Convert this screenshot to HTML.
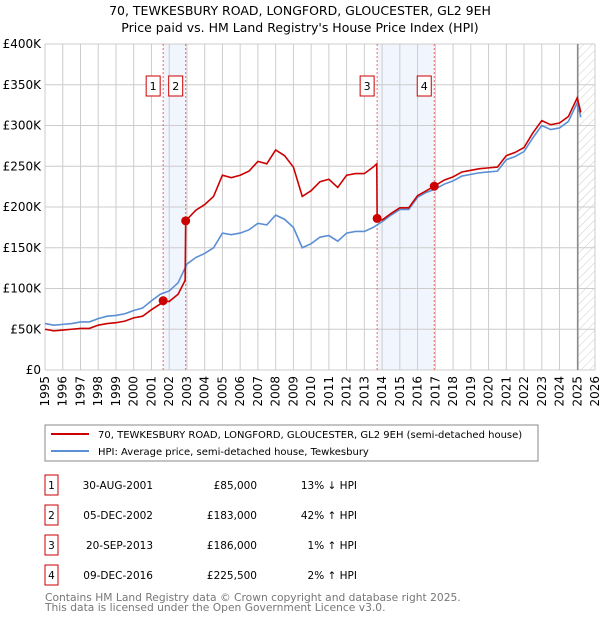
<!DOCTYPE html>
<html><head><meta charset="utf-8"><style>
body{margin:0;background:#fff;width:600px;height:620px;overflow:hidden;font-family:"DejaVu Sans","Liberation Sans",sans-serif;}
</style></head><body>
<svg id="chart" width="600" height="620" xmlns="http://www.w3.org/2000/svg" font-family="DejaVu Sans, Liberation Sans, sans-serif">
<defs><pattern id="hatch" patternUnits="userSpaceOnUse" width="6" height="6" patternTransform="rotate(45)"><line x1="0" y1="0" x2="0" y2="6" stroke="#ccc" stroke-width="1"/></pattern></defs>
<text x="300" y="15" font-size="12.5" text-anchor="middle">70, TEWKESBURY ROAD, LONGFORD, GLOUCESTER, GL2 9EH</text>
<text x="300" y="32" font-size="12.5" text-anchor="middle">Price paid vs. HM Land Registry's House Price Index (HPI)</text>
<g id="plot"></g>
<g>
<rect x="45" y="425" width="493" height="36" fill="#fff" stroke="#888"/>
<line x1="51" y1="434" x2="89" y2="434" stroke="#cc0000" stroke-width="2"/>
<text x="98" y="438" font-size="10">70, TEWKESBURY ROAD, LONGFORD, GLOUCESTER, GL2 9EH (semi-detached house)</text>
<line x1="51" y1="451" x2="89" y2="451" stroke="#5b8fd4" stroke-width="2"/>
<text x="98" y="455" font-size="10">HPI: Average price, semi-detached house, Tewkesbury</text>
</g>
<g id="table" font-size="10.5"></g>
<text x="45" y="601" font-size="10.7" fill="#777">Contains HM Land Registry data © Crown copyright and database right 2025.</text>
<text x="45" y="611" font-size="10.7" fill="#777">This data is licensed under the Open Government Licence v3.0.</text>
</svg>
<script>
const yearTicks=[1995,1996,1997,1998,1999,2000,2001,2002,2003,2004,2005,2006,2007,2008,2009,2010,2011,2012,2013,2014,2015,2016,2017,2018,2019,2020,2021,2022,2023,2024,2025,2026];
const valueTicks=[0,50000,100000,150000,200000,250000,300000,350000,400000];
const valueTickLabels=["£0","£50K","£100K","£150K","£200K","£250K","£300K","£350K","£400K"];
const hpiYears=[1995,1995.5,1996,1996.5,1997,1997.5,1998,1998.5,1999,1999.5,2000,2000.5,2001,2001.5,2002,2002.5,2003,2003.5,2004,2004.5,2005,2005.5,2006,2006.5,2007,2007.5,2008,2008.5,2009,2009.5,2010,2010.5,2011,2011.5,2012,2012.5,2013,2013.5,2014,2014.5,2015,2015.5,2016,2016.5,2017,2017.5,2018,2018.5,2019,2019.5,2020,2020.5,2021,2021.5,2022,2022.5,2023,2023.5,2024,2024.5,2025,2025.2];
const hpiValues=[57,55,56,57,59,59,63,66,67,69,73,76,85,93,97,107,130,138,143,150,168,166,168,172,180,178,190,185,175,150,155,163,165,158,168,170,170,175,182,190,197,197,212,218,222,228,232,238,240,242,243,244,258,262,268,285,300,295,297,305,328,310];
const priceYears=[1995,1995.5,1996,1996.5,1997,1997.5,1998,1998.5,1999,1999.5,2000,2000.5,2001,2001.5,2001.66,2002,2002.5,2002.9,2002.93,2003.5,2004,2004.5,2005,2005.5,2006,2006.5,2007,2007.5,2008,2008.5,2009,2009.5,2010,2010.5,2011,2011.5,2012,2012.5,2013,2013.5,2013.7,2013.72,2014,2014.5,2015,2015.5,2016,2016.5,2016.94,2017.5,2018,2018.5,2019,2019.5,2020,2020.5,2021,2021.5,2022,2022.5,2023,2023.5,2024,2024.5,2025,2025.2];
const priceValues=[50,48,49,50,51,51,55,57,58,60,64,66,74,81,85,84,93,110,183,196,203,213,239,236,239,244,256,253,270,263,249,213,220,231,234,224,239,241,241,249,253,186,184,192,199,199,214,220,225.5,233,237,243,245,247,248,249,263,267,273,291,306,301,303,311,334,316];
const saleLabels=["1","2","3","4"];
const saleYears=[2001.66,2002.93,2013.72,2016.94];
const saleValues=[85000,183000,186000,225500];
const saleDates=["30-AUG-2001","05-DEC-2002","20-SEP-2013","09-DEC-2016"];
const salePrices=["£85,000","£183,000","£186,000","£225,500"];
const saleHpi=["13% ↓ HPI","42% ↑ HPI","1% ↑ HPI","2% ↑ HPI"];

const X0=45,X1=595,Y0=370,Y1=44;
const sx=y=>X0+(y-1995)/(2026-1995)*(X1-X0);
const sy=v=>Y0-v/400000*(Y0-Y1);
const NS="http://www.w3.org/2000/svg";
const plot=document.getElementById('plot');
function mk(tag,attrs,parent){const e=document.createElementNS(NS,tag);for(const k in attrs)e.setAttribute(k,attrs[k]);(parent||plot).appendChild(e);return e;}
for(const [a,b] of [[0,1],[2,3]]){const r=mk('rect',{x:sx(saleYears[a]),y:Y1,width:sx(saleYears[b])-sx(saleYears[a]),height:Y0-Y1,fill:'#eef3fc',opacity:0.8});

}
const h=mk('rect',{x:sx(2025.03),y:Y1,width:X1-sx(2025.03),height:Y0-Y1,fill:'url(#hatch)'});


yearTicks.forEach(y=>{const l=mk('line',{x1:sx(y),x2:sx(y),y1:Y1,y2:Y0,stroke:'#ccc','stroke-width':1});


const t=mk('text',{x:0,y:0,'font-size':12,'text-anchor':'end',transform:`translate(${sx(y)+4},${Y0+6}) rotate(-90)`});t.textContent=y;

});
valueTicks.forEach((v,i)=>{const l=mk('line',{x1:X0,x2:X1,y1:sy(v),y2:sy(v),stroke:'#ccc','stroke-width':1});


const t=mk('text',{x:X0-4,y:sy(v)+4,'font-size':12,'text-anchor':'end'});t.textContent=valueTickLabels[i];

});
const v25=mk('line',{x1:sx(2025.03),x2:sx(2025.03),y1:Y1,y2:Y0,stroke:'#888','stroke-width':1.5});


saleYears.forEach((y,i)=>{const l=mk('line',{x1:sx(y),x2:sx(y),y1:Y1,y2:Y0,stroke:'#e66','stroke-width':1,'stroke-dasharray':'2,2'});


const g=mk('g',{});


mk('rect',{x:sx(y)-17,y:76,width:14,height:20,fill:'#fff',stroke:'#cc0000'},g);
const t=mk('text',{x:sx(y)-10,y:90,'font-size':11,'text-anchor':'middle'},g);t.textContent=saleLabels[i];});
const hp=mk('polyline',{points:hpiYears.map((y,i)=>sx(y)+','+sy(hpiValues[i]*1000)).join(' '),fill:'none',stroke:'#5b8fd4','stroke-width':1.6});


const pp=mk('polyline',{points:priceYears.map((y,i)=>sx(y)+','+sy(priceValues[i]*1000)).join(' '),fill:'none',stroke:'#cc0000','stroke-width':1.6});


saleYears.forEach((y,i)=>{const c=mk('circle',{cx:sx(y),cy:sy(saleValues[i]),r:4.5,fill:'#cc0000'});

});
const tb=document.getElementById('table');
saleLabels.forEach((s,i)=>{const y=483+i*30;
const g=mk('g',{},tb);


mk('rect',{x:45,y:y-8,width:13,height:20,fill:'#fff',stroke:'#cc0000'},g);
const a=mk('text',{x:51.5,y:y+6,'text-anchor':'middle'},g);a.textContent=s;
const b=mk('text',{x:153,y:y+6,'text-anchor':'end'},g);b.textContent=saleDates[i];
const c=mk('text',{x:257,y:y+6,'text-anchor':'end'},g);c.textContent=salePrices[i];
const d=mk('text',{x:357,y:y+6,'text-anchor':'end'},g);d.textContent=saleHpi[i];});
</script>
</body></html>
